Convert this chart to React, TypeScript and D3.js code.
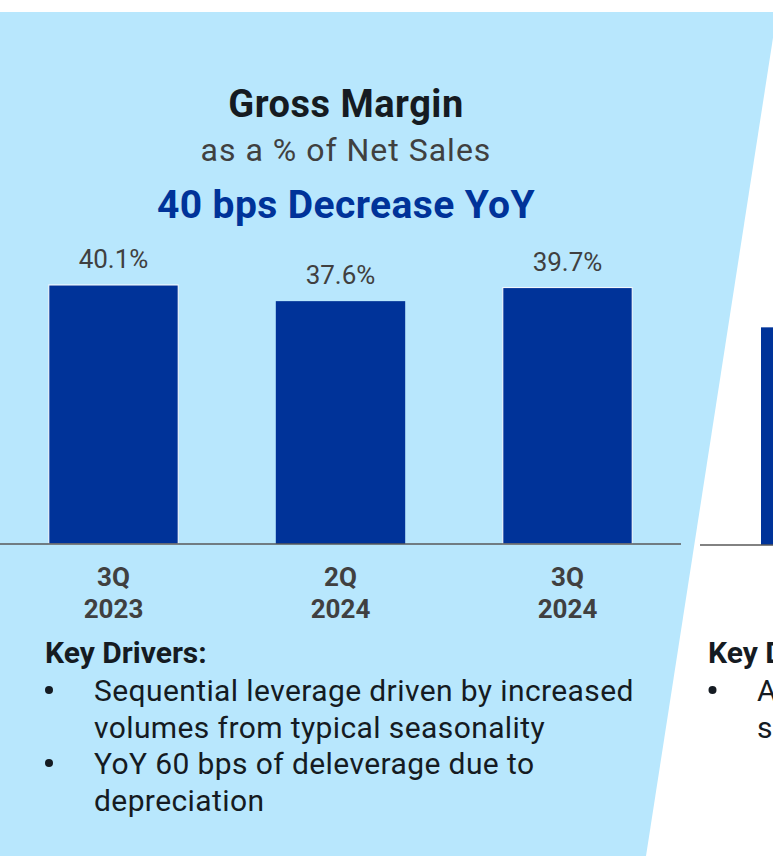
import React from 'react';
import * as d3 from 'd3';

// quarters and gross margin values (% of net sales)
const quarters = ['3Q 2023', '2Q 2024', '3Q 2024'];
const grossMargin = [40.1, 37.6, 39.7];
const valueLabels = ['40.1%', '37.6%', '39.7%'];

const title = 'Gross Margin';
const subtitle = 'as a % of Net Sales';
const headline = '40 bps Decrease YoY';

const driversHeading = 'Key Drivers:';
const drivers = [
    ['Sequential leverage driven by increased', 'volumes from typical seasonality'],
    ['YoY 60 bps of deleverage due to', 'depreciation'],
];

// next panel, only its left edge shows in the picture
const nextPanelValues = [33.7];
const nextPanelDrivers = [['A', 's']];

const W = 773;
const H = 856;
const FONT = 'Roboto, "Noto Sans", sans-serif';

const App = () => {
    const baseY = 544;

    const x = d3.scaleBand()
        .domain(quarters)
        .range([0, 681])
        .paddingInner(0.43)
        .paddingOuter(0.215);

    const y = d3.scaleLinear()
        .domain([0, 40.1])
        .range([baseY, 285]);

    // right panel: same scale, its own band
    const x2 = d3.scaleBand()
        .domain(['next'])
        .range([700, 700 + 227])
        .paddingInner(0.43)
        .paddingOuter(0.215);

    const bg = d3.line()([[0, 12], [777, 12], [646, 856], [0, 856]]) + 'Z';

    const lineY = (i, j) => 701 + i * 73 + j * 36.5;

    return (
        <svg width={W} height={H} style={{ position: 'absolute', left: 0, top: 0, fontFamily: FONT }}>
            <rect x={0} y={0} width={W} height={H} fill="#ffffff" />
            <path d={bg} fill="#b8e7fd" />

            <text x={346} y={117} textAnchor="middle" fontSize={38} fontWeight={700} letterSpacing={0.5} fill="#151b22">{title}</text>
            <text x={346} y={161} textAnchor="middle" fontSize={32} letterSpacing={1} fill="#404040">{subtitle}</text>
            <text x={346} y={218} textAnchor="middle" fontSize={39} fontWeight={700} letterSpacing={0.4} fill="#003399">{headline}</text>

            {quarters.map((q, i) => (
                <g key={q}>
                    <rect
                        x={x(q)}
                        y={y(grossMargin[i])}
                        width={x.bandwidth()}
                        height={baseY - y(grossMargin[i])}
                        fill="#003399"
                        stroke={i === 1 ? 'none' : '#ffffff'}
                        strokeWidth={1}
                    />
                    <text
                        x={x(q) + x.bandwidth() / 2}
                        y={y(grossMargin[i]) - 17}
                        textAnchor="middle"
                        fontSize={26}
                        fill="#404040"
                    >{valueLabels[i]}</text>
                    <text
                        x={x(q) + x.bandwidth() / 2}
                        textAnchor="middle"
                        fontSize={26}
                        fontWeight={700}
                        fill="#404040"
                    >
                        <tspan x={x(q) + x.bandwidth() / 2} y={586}>{q.split(' ')[0]}</tspan>
                        <tspan x={x(q) + x.bandwidth() / 2} y={618}>{q.split(' ')[1]}</tspan>
                    </text>
                </g>
            ))}
            <line x1={0} x2={681} y1={baseY} y2={baseY} stroke="#595959" strokeWidth={1.5} />

            <text x={45} y={663} fontSize={30} fontWeight={700} fill="#151b22">{driversHeading}</text>
            {drivers.map((lines, i) => (
                <g key={i}>
                    <circle cx={49} cy={lineY(i, 0) - 11} r={4} fill="#151b22" />
                    {lines.map((t, j) => (
                        <text key={j} x={94} y={lineY(i, j)} fontSize={30} letterSpacing={0.4} fill="#151b22">{t}</text>
                    ))}
                </g>
            ))}

            {/* next panel, cut by the right edge */}
            {nextPanelValues.map((v, i) => (
                <rect key={i} x={761} y={y(v) + 1} width={x2.bandwidth()} height={baseY - y(v)} fill="#003399" />
            ))}
            <line x1={700} x2={W} y1={baseY + 1} y2={baseY + 1} stroke="#595959" strokeWidth={1.5} />
            <text x={708} y={663} fontSize={30} fontWeight={700} fill="#151b22">{driversHeading}</text>
            {nextPanelDrivers.map((lines, i) => (
                <g key={i}>
                    <circle cx={712.5} cy={lineY(i, 0) - 11} r={4} fill="#151b22" />
                    {lines.map((t, j) => (
                        <text key={j} x={757} y={lineY(i, j)} fontSize={30} fill="#151b22">{t}</text>
                    ))}
                </g>
            ))}
        </svg>
    );
};

export default App;
